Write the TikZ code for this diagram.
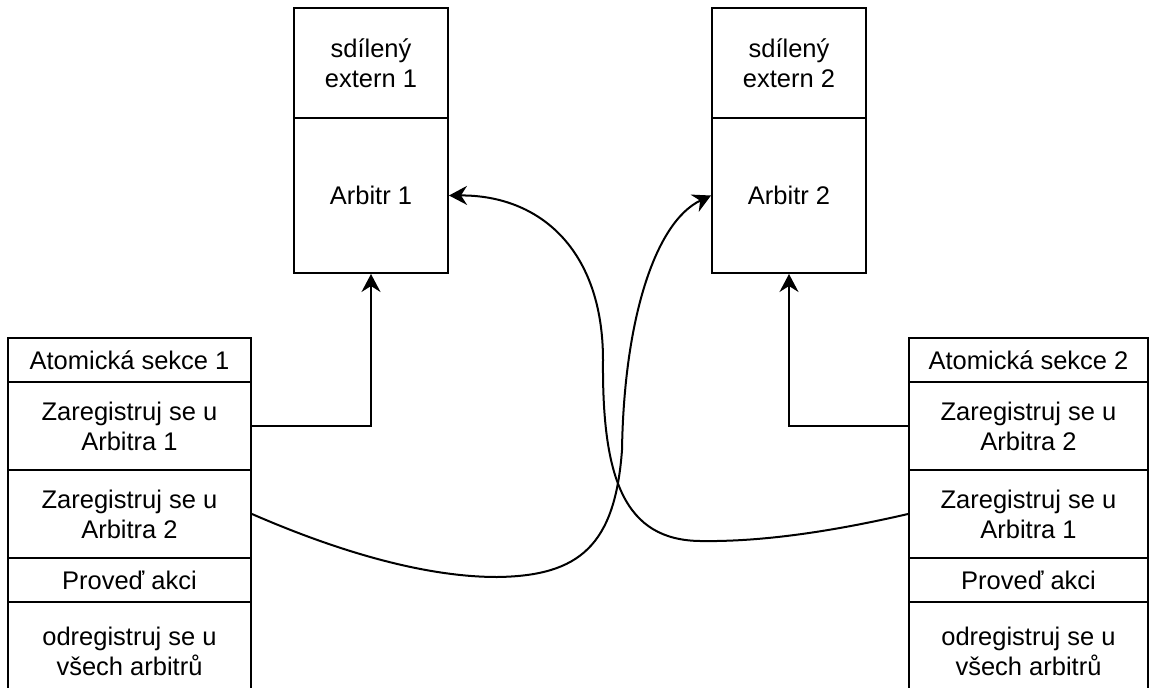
\documentclass[tikz,border=0pt]{standalone}
\usepackage{fontspec}
\setmainfont{Liberation Sans}
\usetikzlibrary{arrows.meta}
\begin{document}
\begin{tikzpicture}[x=1pt,y=-1pt,
  cell/.style={draw, line width=2pt, rectangle, inner sep=0pt, align=center,
    font=\fontsize{25.5}{30}\selectfont},
  link/.style={line width=2pt, -{Stealth[length=18pt,width=19pt,inset=6pt]}}]
\useasboundingbox (0,0) rectangle (1149,688);
\clip (0,0) rectangle (1149,688);

% shared externals with their arbiters
\node[cell, minimum width=154pt, minimum height=110pt] (T1a) at (371,63) {sdílený\\extern 1};
\node[cell, minimum width=154pt, minimum height=155pt] (T1b) at (371,195.5) {Arbitr 1};
\node[cell, minimum width=154pt, minimum height=110pt] (T2a) at (789,63) {sdílený\\extern 2};
\node[cell, minimum width=154pt, minimum height=155pt] (T2b) at (789,195.5) {Arbitr 2};

% atomic section 1
\node[cell, minimum width=243pt, minimum height=44pt] (L0) at (129.5,360) {Atomická sekce 1};
\node[cell, minimum width=243pt, minimum height=88pt] (L1) at (129.5,426) {Zaregistruj se u\\Arbitra 1};
\node[cell, minimum width=243pt, minimum height=88pt] (L2) at (129.5,514) {Zaregistruj se u\\Arbitra 2};
\node[cell, minimum width=243pt, minimum height=44pt] (L3) at (129.5,580) {Proveď akci};
\node[cell, minimum width=243pt, minimum height=98pt] (L4) at (129.5,651) {odregistruj se u\\všech arbitrů};

% atomic section 2
\node[cell, minimum width=239pt, minimum height=44pt] (R0) at (1028.5,360) {Atomická sekce 2};
\node[cell, minimum width=239pt, minimum height=88pt] (R1) at (1028.5,426) {Zaregistruj se u\\Arbitra 2};
\node[cell, minimum width=239pt, minimum height=88pt] (R2) at (1028.5,514) {Zaregistruj se u\\Arbitra 1};
\node[cell, minimum width=239pt, minimum height=44pt] (R3) at (1028.5,580) {Proveď akci};
\node[cell, minimum width=239pt, minimum height=98pt] (R4) at (1028.5,651) {odregistruj se u\\všech arbitrů};

% registrations
\draw[link] (L1.east) -| (T1b.south);
\draw[link] (R1.west) -| (T2b.south);
\draw[link] (L2.east) .. controls (330,548) and (420,577) .. (497,577)
  .. controls (580,576) and (615,545) .. (622,450)
  .. controls (624,320) and (655,222) .. (T2b.west);
\draw[link] (R2.west) .. controls (830,532) and (760,542) .. (700,541)
  .. controls (625,540) and (602,480) .. (603,360)
  .. controls (603,250) and (540,195) .. (T1b.east);
\end{tikzpicture}
\end{document}
